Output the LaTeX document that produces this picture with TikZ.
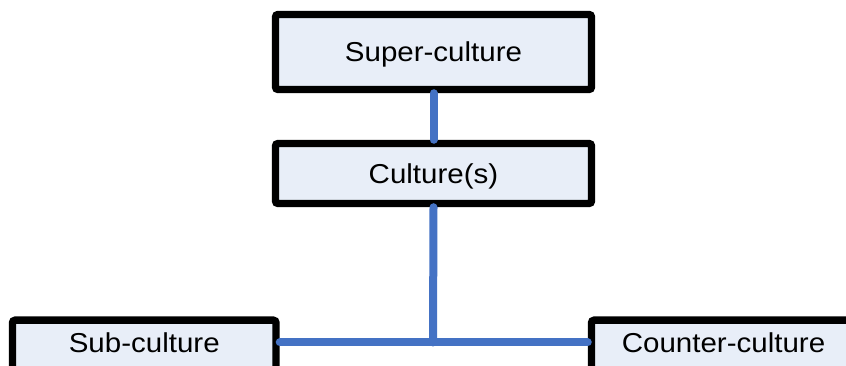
\documentclass[tikz,border=0pt]{standalone}
\usepackage{fontspec}
\setmainfont{Liberation Sans}
\definecolor{boxfill}{RGB}{232,238,248}
\definecolor{linkblue}{RGB}{68,114,196}
\newcommand{\boxtxt}[1]{\scalebox{1.08}[1]{\fontsize{20.5pt}{24pt}\selectfont #1}}
\begin{document}
\begin{tikzpicture}[x=0.75pt,y=-0.75pt,
  boxstyle/.style={draw=black,fill=boxfill,line width=5.6pt,rounded corners=2pt,inner sep=0pt},
  topbox/.style={boxstyle,minimum width=316*0.75pt,text height=14.6pt,text depth=0pt},
  link/.style={draw=linkblue,line width=6pt,line cap=round}]
\useasboundingbox (0,0) rectangle (846,366);
\begin{scope}
\clip (0,0) rectangle (846,366);
\node[topbox,minimum height=75*0.75pt] (super) at (433.5,52) {\boxtxt{Super-culture}};
\node[topbox,minimum height=60*0.75pt] (cult) at (433.5,173.5) {\boxtxt{Culture(s)}};
\node[boxstyle,anchor=north,minimum width=263.5*0.75pt,text height=32.5*0.75pt,text depth=36*0.75pt] (sub) at (144.25,316.5) {\boxtxt{Sub-culture}};
\node[boxstyle,anchor=north,minimum width=264*0.75pt,text height=32.5*0.75pt,text depth=36*0.75pt] (counter) at (723.5,316.5) {\boxtxt{Counter-culture}};
\end{scope}
\coordinate (j) at (433,342.5);
\draw[link] (super.south) -- (cult.north);
\draw[link] (cult.south) -- (j);
\draw[link] (sub.east |- j) -- (counter.west |- j);
\end{tikzpicture}
\end{document}
